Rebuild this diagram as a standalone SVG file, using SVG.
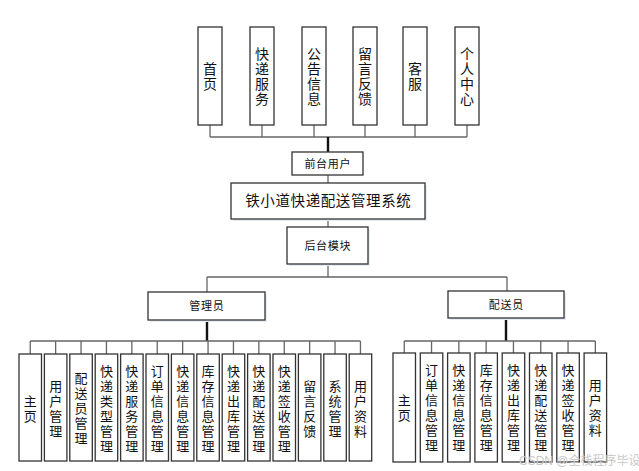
<svg xmlns="http://www.w3.org/2000/svg" width="639" height="471" viewBox="0 0 639 471">
<style>
text{font-family:"Liberation Sans","Noto Sans CJK SC",sans-serif;fill:#111;text-anchor:middle}
.box{fill:#fff;stroke:#333;stroke-width:1.3}
.sh{fill:#e6ecf3}
.ln{stroke:#666;stroke-width:1.3;fill:none}
.tk{stroke:#111;stroke-width:2.4;fill:none}
.t14{font-size:14px}
.t13{font-size:13px}
.t11{font-size:11px;letter-spacing:0.7px}
.wm{font-size:12px;fill:#c8c8c8;text-anchor:start}
</style>
<rect width="639" height="471" fill="#fff"/>
<g id="connectors">
<path class="ln" d="M210 125V137M262 125V137M314 125V137M365 125V137M415 125V137M467 125V137M210 137H467"/>
<path class="tk" d="M328 137V152"/>
<path class="ln" d="M328 175V183M328 219V227M328 264V277M207 277H507M207 277V292M507 277V291"/>
<path class="tk" d="M207 320V341M506 318V341"/>
<path class="ln" d="M30.25 341H360.45M30.25 341V354M55.65 341V354M81.05 341V354M106.45 341V354M131.85 341V354M157.25 341V354M182.65 341V354M208.05 341V354M233.45 341V354M258.85 341V354M284.25 341V354M309.65 341V354M335.05 341V354M360.45 341V354"/>
<path class="ln" d="M404.25 341H595.35M404.25 341V353M431.55 341V353M458.85 341V353M486.15 341V353M513.45 341V353M540.75 341V353M568.05 341V353M595.35 341V353"/>
</g>
<g id="top">
<g id="n-shouye"><rect class="box" x="198" y="27" width="24" height="98"/><text class="t14" x="210" y="73.5">首<tspan x="210" dy="15">页</tspan></text></g>
<g id="n-kuaidifuwu"><rect class="box" x="250" y="27" width="24" height="98"/><text class="t14" x="262" y="58.5">快<tspan x="262" dy="15">递</tspan><tspan x="262" dy="15">服</tspan><tspan x="262" dy="15">务</tspan></text></g>
<g id="n-gonggao"><rect class="box" x="302" y="27" width="24" height="98"/><text class="t14" x="314" y="58.5">公<tspan x="314" dy="15">告</tspan><tspan x="314" dy="15">信</tspan><tspan x="314" dy="15">息</tspan></text></g>
<g id="n-liuyan"><rect class="box" x="353" y="27" width="24" height="98"/><text class="t14" x="365" y="58.5">留<tspan x="365" dy="15">言</tspan><tspan x="365" dy="15">反</tspan><tspan x="365" dy="15">馈</tspan></text></g>
<g id="n-kefu"><rect class="box" x="403" y="27" width="24" height="98"/><text class="t14" x="415" y="73.5">客<tspan x="415" dy="15">服</tspan></text></g>
<g id="n-geren"><rect class="box" x="455" y="27" width="24" height="98"/><text class="t14" x="467" y="58.5">个<tspan x="467" dy="15">人</tspan><tspan x="467" dy="15">中</tspan><tspan x="467" dy="15">心</tspan></text></g>
</g>
<g id="n-qiantai"><rect class="box" x="292" y="152" width="71" height="23"/><text class="t11" x="327.8" y="167.5">前台用户</text></g>
<g id="n-system"><rect class="sh" x="233" y="185" width="194" height="36"/><rect class="box" x="231" y="183" width="194" height="36"/><text x="328.3" y="206" font-size="14.5" letter-spacing="0.6">铁小道快递配送管理系统</text></g>
<g id="n-houtai"><rect class="sh" x="289" y="229" width="81" height="37"/><rect class="box" x="287" y="227" width="81" height="37"/><text class="t11" x="327.8" y="249.5">后台模块</text></g>
<g id="n-admin"><rect class="sh" x="150" y="294" width="117" height="28"/><rect class="box" x="148" y="292" width="117" height="28"/><text class="t11" x="206.8" y="310">管理员</text></g>
<g id="n-courier"><rect class="sh" x="450" y="293" width="116" height="27"/><rect class="box" x="448" y="291" width="116" height="27"/><text class="t11" x="506.3" y="308.5">配送员</text></g>
<g id="admin-children">
<g id="a0"><rect class="box" x="19" y="354" width="22.5" height="107"/><text class="t13" x="30.25" y="405.6">主<tspan x="30.25" dy="15">页</tspan></text></g>
<g id="a1"><rect class="box" x="44.4" y="354" width="22.5" height="107"/><text class="t13" x="55.65" y="390.6">用<tspan x="55.65" dy="15">户</tspan><tspan x="55.65" dy="15">管</tspan><tspan x="55.65" dy="15">理</tspan></text></g>
<g id="a2"><rect class="box" x="69.8" y="354" width="22.5" height="107"/><text class="t13" x="81.05" y="383.1">配<tspan x="81.05" dy="15">送</tspan><tspan x="81.05" dy="15">员</tspan><tspan x="81.05" dy="15">管</tspan><tspan x="81.05" dy="15">理</tspan></text></g>
<g id="a3"><rect class="box" x="95.2" y="354" width="22.5" height="107"/><text class="t13" x="106.45" y="375.6">快<tspan x="106.45" dy="15">递</tspan><tspan x="106.45" dy="15">类</tspan><tspan x="106.45" dy="15">型</tspan><tspan x="106.45" dy="15">管</tspan><tspan x="106.45" dy="15">理</tspan></text></g>
<g id="a4"><rect class="box" x="120.6" y="354" width="22.5" height="107"/><text class="t13" x="131.85" y="375.6">快<tspan x="131.85" dy="15">递</tspan><tspan x="131.85" dy="15">服</tspan><tspan x="131.85" dy="15">务</tspan><tspan x="131.85" dy="15">管</tspan><tspan x="131.85" dy="15">理</tspan></text></g>
<g id="a5"><rect class="box" x="146" y="354" width="22.5" height="107"/><text class="t13" x="157.25" y="375.6">订<tspan x="157.25" dy="15">单</tspan><tspan x="157.25" dy="15">信</tspan><tspan x="157.25" dy="15">息</tspan><tspan x="157.25" dy="15">管</tspan><tspan x="157.25" dy="15">理</tspan></text></g>
<g id="a6"><rect class="box" x="171.4" y="354" width="22.5" height="107"/><text class="t13" x="182.65" y="375.6">快<tspan x="182.65" dy="15">递</tspan><tspan x="182.65" dy="15">信</tspan><tspan x="182.65" dy="15">息</tspan><tspan x="182.65" dy="15">管</tspan><tspan x="182.65" dy="15">理</tspan></text></g>
<g id="a7"><rect class="box" x="196.8" y="354" width="22.5" height="107"/><text class="t13" x="208.05" y="375.6">库<tspan x="208.05" dy="15">存</tspan><tspan x="208.05" dy="15">信</tspan><tspan x="208.05" dy="15">息</tspan><tspan x="208.05" dy="15">管</tspan><tspan x="208.05" dy="15">理</tspan></text></g>
<g id="a8"><rect class="box" x="222.2" y="354" width="22.5" height="107"/><text class="t13" x="233.45" y="375.6">快<tspan x="233.45" dy="15">递</tspan><tspan x="233.45" dy="15">出</tspan><tspan x="233.45" dy="15">库</tspan><tspan x="233.45" dy="15">管</tspan><tspan x="233.45" dy="15">理</tspan></text></g>
<g id="a9"><rect class="box" x="247.6" y="354" width="22.5" height="107"/><text class="t13" x="258.85" y="375.6">快<tspan x="258.85" dy="15">递</tspan><tspan x="258.85" dy="15">配</tspan><tspan x="258.85" dy="15">送</tspan><tspan x="258.85" dy="15">管</tspan><tspan x="258.85" dy="15">理</tspan></text></g>
<g id="a10"><rect class="box" x="273" y="354" width="22.5" height="107"/><text class="t13" x="284.25" y="375.6">快<tspan x="284.25" dy="15">递</tspan><tspan x="284.25" dy="15">签</tspan><tspan x="284.25" dy="15">收</tspan><tspan x="284.25" dy="15">管</tspan><tspan x="284.25" dy="15">理</tspan></text></g>
<g id="a11"><rect class="box" x="298.4" y="354" width="22.5" height="107"/><text class="t13" x="309.65" y="390.6">留<tspan x="309.65" dy="15">言</tspan><tspan x="309.65" dy="15">反</tspan><tspan x="309.65" dy="15">馈</tspan></text></g>
<g id="a12"><rect class="box" x="323.8" y="354" width="22.5" height="107"/><text class="t13" x="335.05" y="390.6">系<tspan x="335.05" dy="15">统</tspan><tspan x="335.05" dy="15">管</tspan><tspan x="335.05" dy="15">理</tspan></text></g>
<g id="a13"><rect class="box" x="349.2" y="354" width="22.5" height="107"/><text class="t13" x="360.45" y="390.6">用<tspan x="360.45" dy="15">户</tspan><tspan x="360.45" dy="15">资</tspan><tspan x="360.45" dy="15">料</tspan></text></g>
</g>
<g id="courier-children">
<g id="c0"><rect class="box" x="393" y="353" width="22.5" height="109"/><text class="t13" x="404.25" y="404.6">主<tspan x="404.25" dy="15">页</tspan></text></g>
<g id="c1"><rect class="box" x="420.3" y="353" width="22.5" height="109"/><text class="t13" x="431.55" y="374.6">订<tspan x="431.55" dy="15">单</tspan><tspan x="431.55" dy="15">信</tspan><tspan x="431.55" dy="15">息</tspan><tspan x="431.55" dy="15">管</tspan><tspan x="431.55" dy="15">理</tspan></text></g>
<g id="c2"><rect class="box" x="447.6" y="353" width="22.5" height="109"/><text class="t13" x="458.85" y="374.6">快<tspan x="458.85" dy="15">递</tspan><tspan x="458.85" dy="15">信</tspan><tspan x="458.85" dy="15">息</tspan><tspan x="458.85" dy="15">管</tspan><tspan x="458.85" dy="15">理</tspan></text></g>
<g id="c3"><rect class="box" x="474.9" y="353" width="22.5" height="109"/><text class="t13" x="486.15" y="374.6">库<tspan x="486.15" dy="15">存</tspan><tspan x="486.15" dy="15">信</tspan><tspan x="486.15" dy="15">息</tspan><tspan x="486.15" dy="15">管</tspan><tspan x="486.15" dy="15">理</tspan></text></g>
<g id="c4"><rect class="box" x="502.2" y="353" width="22.5" height="109"/><text class="t13" x="513.45" y="374.6">快<tspan x="513.45" dy="15">递</tspan><tspan x="513.45" dy="15">出</tspan><tspan x="513.45" dy="15">库</tspan><tspan x="513.45" dy="15">管</tspan><tspan x="513.45" dy="15">理</tspan></text></g>
<g id="c5"><rect class="box" x="529.5" y="353" width="22.5" height="109"/><text class="t13" x="540.75" y="374.6">快<tspan x="540.75" dy="15">递</tspan><tspan x="540.75" dy="15">配</tspan><tspan x="540.75" dy="15">送</tspan><tspan x="540.75" dy="15">管</tspan><tspan x="540.75" dy="15">理</tspan></text></g>
<g id="c6"><rect class="box" x="556.8" y="353" width="22.5" height="109"/><text class="t13" x="568.05" y="374.6">快<tspan x="568.05" dy="15">递</tspan><tspan x="568.05" dy="15">签</tspan><tspan x="568.05" dy="15">收</tspan><tspan x="568.05" dy="15">管</tspan><tspan x="568.05" dy="15">理</tspan></text></g>
<g id="c7"><rect class="box" x="584.1" y="353" width="22.5" height="109"/><text class="t13" x="595.35" y="389.6">用<tspan x="595.35" dy="15">户</tspan><tspan x="595.35" dy="15">资</tspan><tspan x="595.35" dy="15">料</tspan></text></g>
</g>
<text class="wm" x="519" y="465">CSDN @全栈程序毕设</text>
</svg>
